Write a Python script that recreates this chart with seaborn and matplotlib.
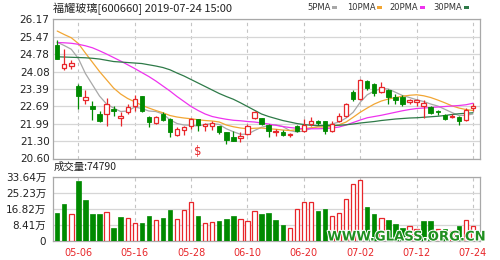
import matplotlib
matplotlib.use("Agg")
import matplotlib.pyplot as plt
import matplotlib.patheffects as pe
import numpy as np
import pandas as pd
import seaborn as sns

# ---------------- data ----------------
dates = ["04-26", "04-29", "04-30",
         "05-06", "05-07", "05-08", "05-09", "05-10", "05-13", "05-14", "05-15", "05-16", "05-17",
         "05-20", "05-21", "05-22", "05-23", "05-24", "05-27", "05-28", "05-29", "05-30", "05-31",
         "06-03", "06-04", "06-05", "06-06", "06-10", "06-11", "06-12", "06-13", "06-14",
         "06-17", "06-18", "06-19", "06-20", "06-21", "06-24", "06-25", "06-26", "06-27", "06-28",
         "07-01", "07-02", "07-03", "07-04", "07-05", "07-08", "07-09", "07-10", "07-11", "07-12",
         "07-15", "07-16", "07-17", "07-18", "07-19", "07-22", "07-23", "07-24"]

opens = [25.14, 24.24, 24.29, 23.49, 22.95, 22.72, 22.39, 22.39, 22.59, 22.23,
         22.46, 22.72, 23.09, 22.28, 22.02, 22.39, 22.19, 21.56, 21.75, 21.92,
         22.19, 21.90, 21.92, 21.92, 21.65, 21.48, 21.43, 21.59, 22.23, 22.22,
         21.95, 21.66, 21.65, 21.54, 21.92, 21.72, 21.99, 22.09, 22.09, 21.72,
         22.09, 22.32, 23.26, 22.99, 23.70, 23.60, 23.26, 23.33, 23.06, 23.06,
         22.86, 22.88, 22.72, 22.68, 22.50, 22.36, 22.26, 22.28, 22.15, 22.63]
highs = [25.34, 25.00, 24.56, 23.60, 23.33, 22.90, 22.52, 23.02, 22.72, 22.46,
         22.79, 23.13, 23.09, 22.32, 22.32, 22.46, 22.23, 21.85, 21.92, 22.23,
         22.19, 22.02, 22.10, 21.92, 21.65, 21.72, 21.65, 21.99, 22.52, 22.23,
         21.99, 21.79, 21.75, 21.61, 21.96, 22.19, 22.28, 22.15, 22.12, 22.09,
         22.42, 22.82, 23.35, 23.80, 23.76, 23.62, 23.66, 23.39, 23.19, 23.13,
         22.99, 23.00, 22.93, 22.72, 22.56, 22.39, 22.39, 22.32, 22.63, 22.82]
lows = [24.58, 24.13, 24.20, 22.59, 22.77, 22.15, 22.06, 21.92, 22.32, 21.92,
        22.39, 22.52, 22.46, 21.88, 21.99, 22.10, 21.45, 21.52, 21.56, 21.79,
        21.70, 21.72, 21.75, 21.59, 21.19, 21.29, 21.25, 21.56, 22.19, 21.95,
        21.48, 21.52, 21.52, 21.48, 21.65, 21.65, 21.92, 21.95, 21.59, 21.65,
        22.06, 22.28, 22.90, 22.93, 23.36, 23.09, 23.22, 22.77, 22.79, 22.72,
        22.77, 22.72, 22.23, 22.39, 22.36, 22.16, 22.23, 21.96, 22.12, 22.52]
closes = [24.60, 24.40, 24.43, 23.09, 23.06, 22.59, 22.12, 22.79, 22.50, 22.32,
          22.68, 22.99, 22.52, 22.06, 22.28, 22.15, 21.65, 21.79, 21.85, 22.19,
          21.96, 21.99, 22.02, 21.65, 21.35, 21.32, 21.52, 21.92, 22.46, 21.99,
          21.72, 21.71, 21.56, 21.58, 21.72, 21.95, 22.12, 22.02, 21.72, 21.99,
          22.32, 22.79, 22.99, 23.73, 23.44, 23.22, 23.46, 23.06, 22.96, 22.79,
          22.93, 22.95, 22.82, 22.42, 22.46, 22.19, 22.32, 22.12, 22.55, 22.72]

# volume in 万 shares, and whether the bar is drawn as an "up" (red) bar
volume_wan = [14.7, 19.1, 13.8, 31.4, 21.6, 13.8, 14.2, 15.1, 6.7, 12.6,
              12.1, 9.3, 9.3, 13.1, 10.7, 12.1, 16.1, 11.2, 16.1, 20.1,
              13.1, 9.3, 9.8, 10.3, 11.2, 13.1, 11.2, 10.3, 15.4, 13.8,
              14.5, 10.7, 8.2, 6.7, 16.6, 20.1, 20.1, 15.6, 16.6, 13.1,
              14.7, 22.1, 29.8, 31.9, 17.7, 14.2, 12.1, 10.7, 8.8, 6.7,
              7.7, 6.3, 10.2, 10.2, 6.1, 6.1, 5.3, 7.7, 10.7, 7.48]
volume_up = [0, 0, 1, 0, 0, 0, 0, 1, 0, 0,
             1, 1, 0, 0, 1, 0, 0, 1, 1, 1,
             0, 1, 1, 0, 0, 0, 1, 1, 1, 0,
             0, 0, 0, 1, 1, 1, 1, 0, 0, 1,
             1, 1, 1, 1, 0, 0, 1, 0, 0, 0,
             1, 1, 0, 0, 1, 0, 1, 0, 1, 1]

ma5 = [25.25, 25.12, 24.97, 24.60, 24.00, 23.55, 23.10, 22.78, 22.62, 22.48,
       22.50, 22.66, 22.60, 22.50, 22.48, 22.38, 22.15, 22.00, 21.94, 21.93,
       21.90, 21.96, 22.00, 21.96, 21.79, 21.67, 21.57, 21.57, 21.72, 21.85,
       21.92, 21.95, 21.88, 21.72, 21.66, 21.70, 21.80, 21.88, 21.92, 21.98,
       22.06, 22.22, 22.45, 22.85, 23.15, 23.30, 23.40, 23.38, 23.25, 23.12,
       23.04, 22.95, 22.88, 22.78, 22.70, 22.57, 22.44, 22.32, 22.33, 22.38]
ma10 = [25.70, 25.56, 25.43, 25.20, 24.82, 24.45, 24.08, 23.75, 23.42, 23.18,
        23.00, 22.87, 22.73, 22.62, 22.52, 22.43, 22.32, 22.26, 22.22, 22.19,
        22.15, 22.12, 22.10, 22.06, 21.94, 21.87, 21.82, 21.79, 21.81, 21.82,
        21.79, 21.77, 21.74, 21.72, 21.75, 21.79, 21.83, 21.86, 21.86, 21.88,
        21.95, 22.06, 22.25, 22.45, 22.62, 22.78, 22.90, 22.98, 23.04, 23.09,
        23.13, 23.15, 23.11, 23.04, 22.94, 22.83, 22.71, 22.62, 22.56, 22.52]
ma20 = [25.24, 25.23, 25.21, 25.17, 25.11, 25.03, 24.91, 24.78, 24.64, 24.50,
        24.35, 24.20, 24.04, 23.88, 23.70, 23.50, 23.30, 23.08, 22.88, 22.68,
        22.52, 22.38, 22.28, 22.22, 22.17, 22.13, 22.11, 22.08, 22.06, 22.02,
        21.98, 21.93, 21.88, 21.84, 21.81, 21.79, 21.79, 21.79, 21.80, 21.82,
        21.86, 21.94, 22.04, 22.14, 22.23, 22.28, 22.33, 22.39, 22.45, 22.51,
        22.56, 22.60, 22.62, 22.64, 22.66, 22.68, 22.70, 22.72, 22.75, 22.81]
ma30 = [24.67, 24.66, 24.65, 24.64, 24.63, 24.61, 24.58, 24.53, 24.48, 24.46,
        24.44, 24.42, 24.40, 24.35, 24.30, 24.24, 24.15, 24.02, 23.90, 23.76,
        23.62, 23.48, 23.34, 23.20, 23.08, 22.97, 22.83, 22.68, 22.53, 22.38,
        22.28, 22.20, 22.12, 22.06, 22.00, 21.96, 21.93, 21.92, 21.92, 21.92,
        21.93, 21.95, 21.98, 22.02, 22.05, 22.08, 22.12, 22.15, 22.18, 22.20,
        22.22, 22.23, 22.25, 22.27, 22.29, 22.32, 22.36, 22.39, 22.41, 22.43]

price_ticks = [20.60, 21.30, 21.99, 22.69, 23.39, 24.08, 24.78, 25.47, 26.17]
volume_ticks = [0, 8.41, 16.82, 25.23, 33.64]
date_labels = ["05-06", "05-16", "05-28", "06-10", "06-20", "07-02", "07-12", "07-24"]
ma_names = ["5PMA", "10PMA", "20PMA", "30PMA"]
ma_colors = ["#a8a8a8", "#f2a634", "#ee33ee", "#2e7a48"]
title_text = "福耀玻璃[600660] 2019-07-24 15:00"
volume_title = "成交量:74790"
dividend_day = "05-29"
watermark = "WWW.GLASS.ORG.CN"

# ---------------- styling ----------------
sns.set_theme(style="white")
plt.rcParams["font.family"] = ["DejaVu Sans", "Noto Sans CJK SC"]

RED = "#e8262a"
GREEN = "#008a00"
GRID = "#d6d6d6"
SPINE = "#a8a8a8"

df = pd.DataFrame({"date": dates, "open": opens, "high": highs, "low": lows,
                   "close": closes, "vol": volume_wan, "up": volume_up,
                   "MA5": ma5, "MA10": ma10, "MA20": ma20, "MA30": ma30})
df["x"] = np.arange(len(df))
tick_pos = [dates.index(d) for d in date_labels]

W, H = 500, 260
fig = plt.figure(figsize=(W / 100, H / 100), dpi=100)
ax = fig.add_axes([53 / W, 1 - 158.5 / H, 427 / W, (158.5 - 19.3) / H])
axv = fig.add_axes([53 / W, 1 - 240.7 / H, 427 / W, (240.7 - 176.7) / H])

for a in (ax, axv):
    a.set_facecolor("white")
    for s in a.spines.values():
        s.set_color(SPINE)
        s.set_linewidth(0.9)
    a.set_xlim(-0.6, len(df) - 0.0)
    a.set_xticks(tick_pos)
    a.grid(axis="x", color="#c4c4c4", linestyle=(0, (3, 3)), linewidth=0.8)
    a.grid(axis="y", color=GRID, linestyle="-", linewidth=0.9)
    a.set_axisbelow(True)
    a.tick_params(length=0)

# ---------------- price panel ----------------
ax.set_ylim(price_ticks[0], price_ticks[-1])
ax.set_yticks(price_ticks)
ax.set_yticklabels([f"{t:.2f}" for t in price_ticks], fontsize=7.5, color="#222222")
ax.tick_params(axis="y", pad=2.5)
ax.set_xticklabels([])

for name, col in zip(["MA5", "MA10", "MA20", "MA30"], ma_colors):
    sns.lineplot(data=df, x="x", y=name, ax=ax, color=col, linewidth=0.9, legend=False, zorder=2)

up = df["close"] >= df["open"]
colors = np.where(up, RED, GREEN)
ax.vlines(df["x"], df["low"], df["high"], colors=colors, linewidth=0.9, zorder=3)
body_lo = np.minimum(df["open"], df["close"])
body_h = np.maximum(np.abs(df["close"] - df["open"]), 0.02)
ax.bar(df["x"][up], body_h[up], bottom=body_lo[up], width=0.62,
       facecolor="white", edgecolor=RED, linewidth=0.9, zorder=4)
ax.bar(df["x"][~up], body_h[~up], bottom=body_lo[~up], width=0.62,
       facecolor=GREEN, edgecolor=GREEN, linewidth=0.6, zorder=4)

# dividend marker
ax.text(dates.index(dividend_day), 20.88, "$", color=RED, fontsize=8.5,
        ha="center", va="center", zorder=5)

ax.set_xlabel("")
ax.set_ylabel("")

# ---------------- volume panel ----------------
axv.set_ylim(volume_ticks[0], volume_ticks[-1])
axv.set_yticks(volume_ticks)
axv.set_yticklabels(["0" if t == 0 else f"{t:.2f}万" for t in volume_ticks],
                    fontsize=7.5, color="#222222")
axv.tick_params(axis="y", pad=5)
vup = df["up"] == 1
axv.bar(df["x"][vup], df["vol"][vup], width=0.62, facecolor="white",
        edgecolor=RED, linewidth=0.9, zorder=3)
axv.bar(df["x"][~vup], df["vol"][~vup], width=0.62, facecolor=GREEN,
        edgecolor=GREEN, linewidth=0.5, zorder=3)
axv.set_xticklabels(date_labels, fontsize=7, color=RED)
axv.tick_params(axis="x", pad=5)
axv.set_xlabel("")
axv.set_ylabel("")

# ---------------- texts ----------------
fig.text(53 / W, 1 - 8.5 / H, title_text, fontsize=8, color="#222222",
         ha="left", va="center", family=["Noto Sans CJK SC", "DejaVu Sans"])
fig.text(54 / W, 1 - 167 / H, volume_title, fontsize=7.5, color="#222222",
         ha="left", va="center", family=["Noto Sans CJK SC", "DejaVu Sans"])

leg_x = [307, 347, 389, 433]
dash_x = [332, 377, 420, 464]
for name, col, tx, dx in zip(ma_names, ma_colors, leg_x, dash_x):
    fig.text(tx / W, 1 - 7.5 / H, name, fontsize=6, color="#333333", ha="left", va="center")
    fig.patches.append(plt.Rectangle((dx / W, 1 - 9 / H), 5 / W, 2.6 / H,
                                     transform=fig.transFigure, facecolor=col,
                                     edgecolor="none", figure=fig))

fig.text(407 / W, 1 - 237 / H, watermark, fontsize=9.5, fontweight="bold",
         color="#1f8f1f", ha="center", va="center", zorder=10,
         path_effects=[pe.withStroke(linewidth=1.5, foreground="white")])

fig.savefig("out.png", dpi=100, facecolor="white")
